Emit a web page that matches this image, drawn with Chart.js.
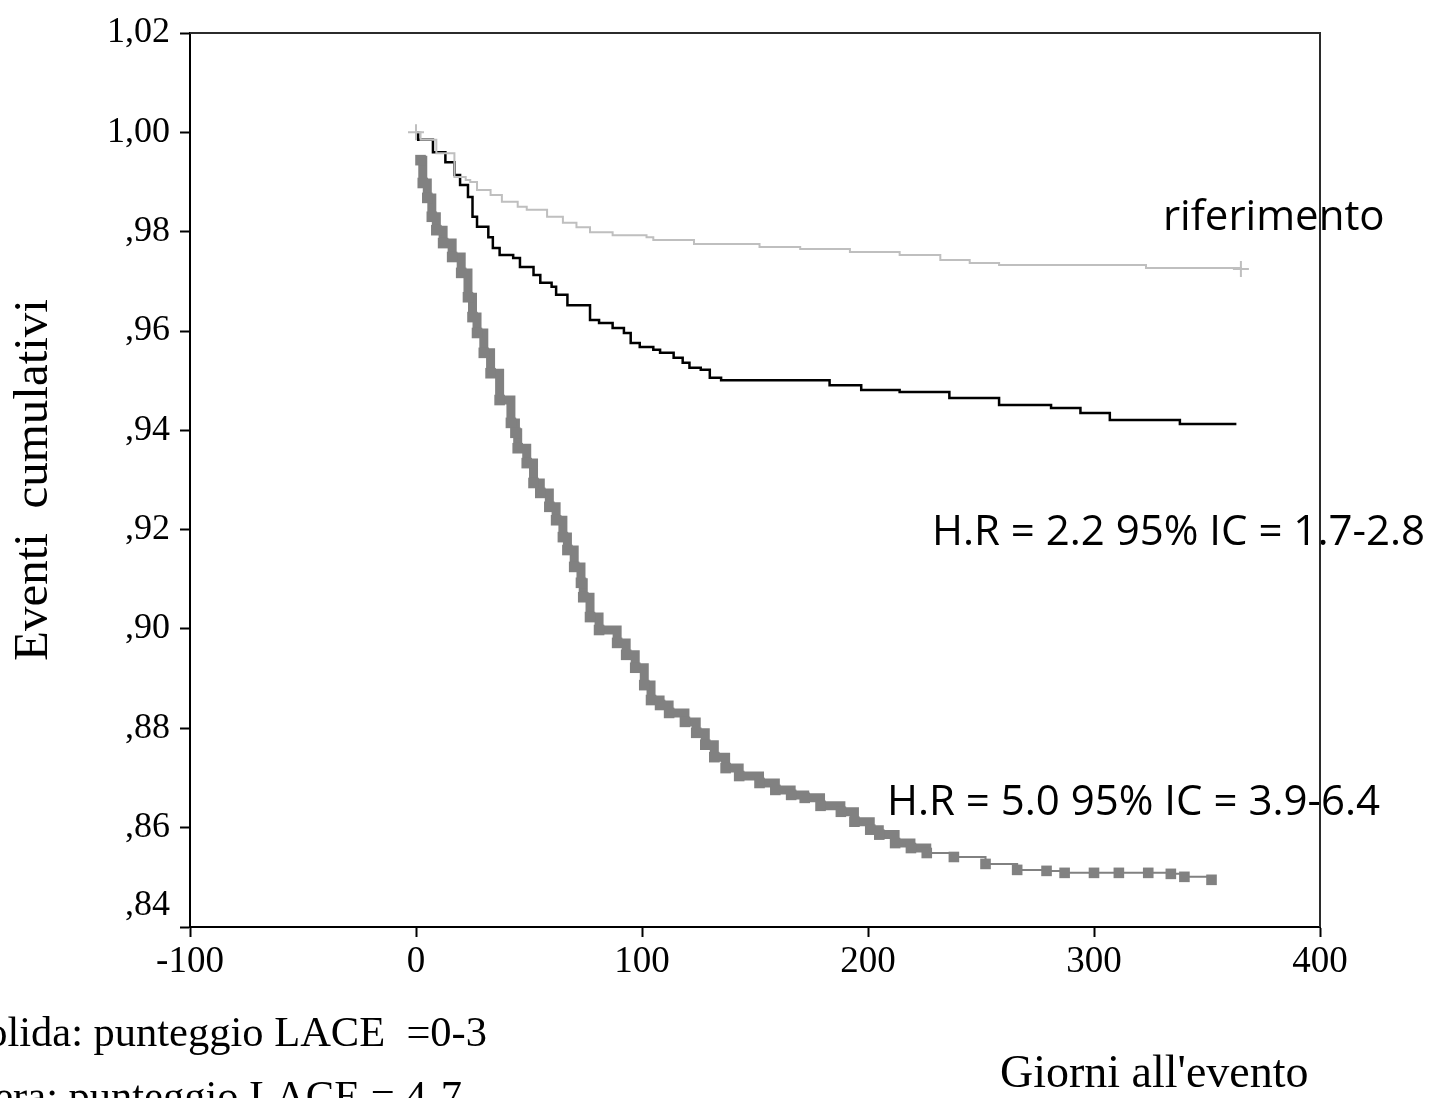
<!DOCTYPE html>
<html lang="it">
<head>
<meta charset="utf-8">
<title>Eventi cumulativi per punteggio LACE</title>
<script src="https://cdn.jsdelivr.net/npm/chart.js@4.4.1/dist/chart.umd.min.js"></script>
<style>
  html, body { margin: 0; padding: 0; background: #fff; }
  #wrap { position: relative; width: 1434px; height: 1098px; }
</style>
</head>
<body>
<div id="wrap"><canvas id="grafico"></canvas></div>
<script>
// ── Dati ──────────────────────────────────────────────────────────────────

// riferimento, punteggio LACE 0-3 (linea grigio chiaro)
const REF_DAYS = [0, 2, 9, 17, 22, 24, 27, 33, 38, 45, 49, 58, 65, 71, 77, 87, 102, 105, 123, 152, 170, 192, 214, 232, 245, 258, 323, 365];
const REF_SURV = [1.000, 0.9985, 0.9958, 0.9910, 0.9904, 0.9900, 0.9884, 0.9874, 0.9860, 0.9850, 0.9844, 0.9830, 0.9818, 0.9809, 0.9799, 0.9793, 0.9789, 0.9783, 0.9775, 0.9769, 0.9765, 0.9759, 0.9753, 0.9743, 0.9737, 0.9733, 0.9727, 0.9725];

// H.R = 2.2 (linea nera)
const MID_DAYS = [0, 1, 7.5, 13, 17, 19.5, 23, 25, 27, 32, 34, 37, 43, 46, 52, 55, 60, 62, 67, 73, 77, 81, 87, 92, 95, 99, 105, 108, 114, 118, 121, 126, 130, 135, 179, 183, 197, 214, 236, 258, 281, 294, 307, 338, 363];
const MID_SURV = [1.000, 0.9985, 0.9960, 0.9940, 0.9914, 0.9894, 0.9870, 0.9830, 0.9810, 0.9789, 0.9767, 0.9753, 0.9747, 0.9729, 0.9713, 0.9697, 0.9689, 0.9673, 0.9652, 0.9652, 0.9622, 0.9616, 0.9606, 0.9596, 0.9576, 0.9568, 0.9562, 0.9556, 0.9546, 0.9536, 0.9526, 0.9522, 0.9506, 0.9501, 0.9501, 0.9491, 0.9481, 0.9477, 0.9465, 0.9451, 0.9445, 0.9435, 0.9421, 0.9413, 0.9413];

// H.R = 5.0 (quadrati grigi)
const HIGH_DAYS = [2, 3, 5, 7, 9, 12, 16, 20, 23, 25, 27, 30, 33, 37, 42, 44, 45, 49, 52, 55, 59, 62, 65, 67, 70, 73, 74, 77, 81, 89, 93, 97, 101, 104, 108, 112, 119, 124, 128, 132, 137, 143, 152, 159, 166, 172, 179, 188, 194, 201, 205, 212, 219, 226, 238, 252, 266, 279, 287, 300, 311, 324, 334, 340, 352];
const HIGH_SURV = [0.9944, 0.9898, 0.9868, 0.9830, 0.9803, 0.9777, 0.9749, 0.9717, 0.9668, 0.9628, 0.9596, 0.9556, 0.9515, 0.9461, 0.9415, 0.9395, 0.9364, 0.9334, 0.9294, 0.9274, 0.9246, 0.9219, 0.9185, 0.9159, 0.9125, 0.9093, 0.9064, 0.9024, 0.8998, 0.8972, 0.8948, 0.8922, 0.8887, 0.8857, 0.8847, 0.8831, 0.8813, 0.8791, 0.8767, 0.8742, 0.8720, 0.8704, 0.8690, 0.8676, 0.8666, 0.8660, 0.8644, 0.8632, 0.8612, 0.8596, 0.8586, 0.8569, 0.8559, 0.8549, 0.8541, 0.8527, 0.8515, 0.8513, 0.8509, 0.8509, 0.8509, 0.8509, 0.8507, 0.8501, 0.8495];

// ── Assi ──────────────────────────────────────────────────────────────────

const X_TICKS  = [-100, 0, 100, 200, 300, 400];
const Y_TICKS  = [0.84, 0.86, 0.88, 0.90, 0.92, 0.94, 0.96, 0.98, 1.00, 1.02];
const Y_LABELS = [",84", ",86", ",88", ",90", ",92", ",94", ",96", ",98", "1,00", "1,02"];

// ── Testi liberi ──────────────────────────────────────────────────────────

const NOTE_TEXT = ["riferimento", "H.R = 2.2 95% IC = 1.7-2.8", "H.R = 5.0 95% IC = 3.9-6.4"];
const NOTE_X    = [330.5, 228.3, 208.4];
const NOTE_Y    = [0.9803, 0.9169, 0.8626];

const LEGENDA = ["Linea solida: punteggio LACE  =0-3", "Linea nera: punteggio LACE = 4-7"];

// ── Helper ────────────────────────────────────────────────────────────────

const SERIF = "'Liberation Serif', 'Times New Roman', serif";
const GRIGIO = "#818181";

function punti(days, surv) {
    return days.map((d, i) => ({ x: d, y: surv[i] }));
}

// cornice in alto/destra + annotazioni
const cornice = {
    id: "cornice",
    afterDraw(chart) {
        const { ctx, chartArea: a, scales: { x, y } } = chart;
        ctx.save();

        ctx.fillStyle = "#000";
        ctx.textBaseline = "alphabetic";
        ctx.font = "42px 'Open Sans', 'Noto Sans', sans-serif";
        NOTE_TEXT.forEach((t, i) => {
            ctx.fillText(t, x.getPixelForValue(NOTE_X[i]), y.getPixelForValue(NOTE_Y[i]));
        });

        ctx.font = "42.5px " + SERIF;
        ctx.textAlign = "right";
        ctx.fillText(LEGENDA[0], 487, 1046);
        ctx.fillText(LEGENDA[1], 462, 1110);

        ctx.strokeStyle = "#2b2b2b";
        ctx.lineWidth = 2;
        ctx.beginPath();
        ctx.moveTo(a.left, a.top);
        ctx.lineTo(a.right, a.top);
        ctx.lineTo(a.right, a.bottom);
        ctx.stroke();

        ctx.restore();
    }
};

// ── Grafico ───────────────────────────────────────────────────────────────

new Chart(document.getElementById("grafico"), {
    type: "line",
    data: {
        datasets: [
            {
                label: "riferimento",
                data: punti(REF_DAYS, REF_SURV),
                stepped: true,
                borderColor: "#bfbfbf",
                borderWidth: 2,
                pointStyle: "cross",
                pointRadius: c => (c.dataIndex === 0 || c.dataIndex === REF_DAYS.length - 1) ? 8 : 0,
                pointBorderColor: "#bfbfbf",
                pointBorderWidth: 2
            },
            {
                label: "LACE 4-7",
                data: punti(MID_DAYS, MID_SURV),
                stepped: true,
                borderColor: "#000",
                borderWidth: 2.5,
                pointRadius: 0
            },
            {
                label: "LACE alto",
                data: punti(HIGH_DAYS, HIGH_SURV),
                stepped: true,
                borderColor: GRIGIO,
                borderWidth: 9,
                segment: {
                    borderWidth: c => c.p0.parsed.x >= 226 ? 2 : 9
                },
                pointStyle: "rect",
                pointRadius: 7.5,
                pointBackgroundColor: GRIGIO,
                pointBorderWidth: 0
            }
        ]
    },
    options: {
        responsive: true,
        maintainAspectRatio: false,
        animation: false,
        events: [],
        layout: { padding: { top: 33, right: 114, left: 0, bottom: 0 } },
        plugins: {
            legend: { display: false },
            tooltip: { enabled: false }
        },
        scales: {
            x: {
                type: "linear",
                min: -100,
                max: 400,
                afterBuildTicks: s => { s.ticks = X_TICKS.map(v => ({ value: v })); },
                afterFit: s => { s.height = 171; s.paddingLeft = 0; s.paddingRight = 0; },
                ticks: {
                    color: "#000",
                    padding: 3,
                    maxRotation: 0,
                    font: { family: SERIF, size: 37 },
                    callback: v => String(v)
                },
                grid: {
                    drawOnChartArea: false,
                    tickLength: 10,
                    tickWidth: 2,
                    tickColor: "#000"
                },
                border: { color: "#000", width: 2 },
                title: {
                    display: true,
                    text: "Giorni all'evento ",
                    align: "end",
                    color: "#000",
                    font: { family: SERIF, size: 46, lineHeight: 1 },
                    padding: { top: 0, bottom: 0 }
                }
            },
            y: {
                type: "linear",
                min: 0.84,
                max: 1.02,
                afterBuildTicks: s => { s.ticks = Y_TICKS.map(v => ({ value: v })); },
                afterFit: s => { s.width = 190; s.paddingTop = 0; s.paddingBottom = 0; },
                ticks: {
                    color: "#000",
                    padding: 10,
                    font: { family: SERIF, size: 36 },
                    // l'etichetta ,84 nel grafico originale sta sopra la tacca
                    callback: (v, i) => i === 0 ? [Y_LABELS[i], ""] : Y_LABELS[i]
                },
                grid: {
                    drawOnChartArea: false,
                    tickLength: 10,
                    tickWidth: 2,
                    tickColor: "#000"
                },
                border: { color: "#000", width: 2 },
                title: {
                    display: true,
                    text: "Eventi  cumulativi",
                    color: "#000",
                    font: { family: SERIF, size: 49, lineHeight: 1 },
                    padding: { top: 10, bottom: 0 }
                }
            }
        }
    },
    plugins: [cornice]
});
</script>
</body>
</html>
